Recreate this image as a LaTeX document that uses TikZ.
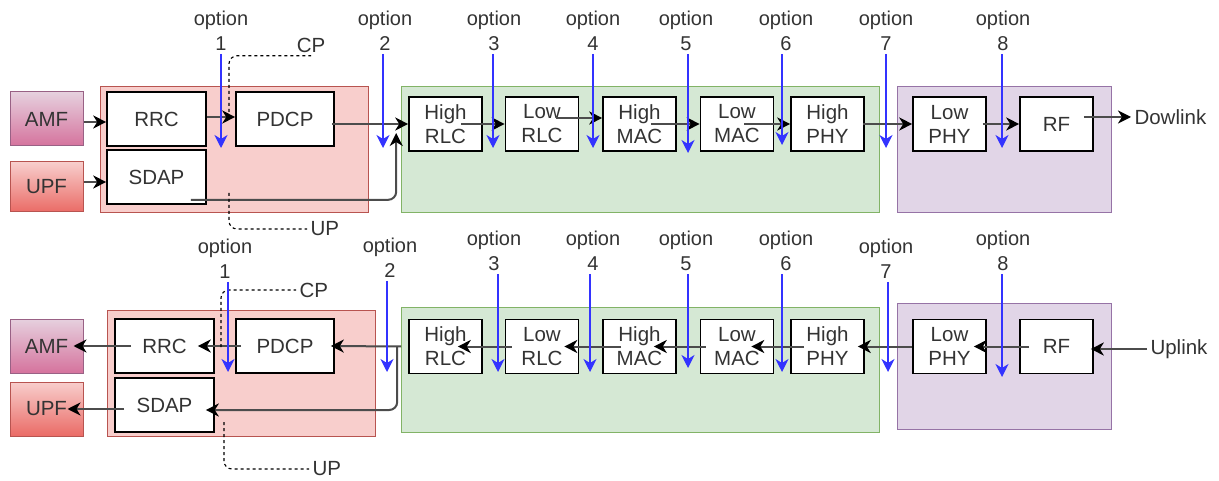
\documentclass[tikz,border=0pt]{standalone}
\usepackage{fontspec}
\setmainfont{Liberation Sans}
\usetikzlibrary{arrows.meta}
\definecolor{txtcinza}{HTML}{333333}
\definecolor{cortecor}{HTML}{3333FF}
\definecolor{amftopo}{HTML}{E6D0DE}
\definecolor{amfbase}{HTML}{D5739D}
\definecolor{amfborda}{HTML}{996185}
\definecolor{upftopo}{HTML}{F8CECC}
\definecolor{upfbase}{HTML}{EA6B66}
\definecolor{vermfundo}{HTML}{F8CECC}
\definecolor{vermborda}{HTML}{B85450}
\definecolor{verdefundo}{HTML}{D5E8D4}
\definecolor{verdeborda}{HTML}{82B366}
\definecolor{roxofundo}{HTML}{E1D5E7}
\definecolor{roxoborda}{HTML}{9673A6}

\begin{document}
\begin{tikzpicture}[
        x=1pt, y=-1pt,
        font=\fontsize{20.5}{24}\selectfont,
        every node/.style={text=txtcinza},
        bloco/.style={rectangle, draw=black, line width=1.6pt, fill=white,
            minimum width=73pt, minimum height=54pt, align=center},
        bloco largo/.style={bloco, minimum width=99pt},
        nucleo/.style={rectangle, line width=1pt, minimum width=73pt, minimum height=54pt},
        amf/.style={nucleo, draw=amfborda, top color=amftopo, bottom color=amfbase},
        upf/.style={nucleo, draw=vermborda, top color=upftopo, bottom color=upfbase, minimum height=50pt},
        seta/.style={-{Stealth[length=13pt,width=13pt,inset=4pt,color=black]}, line width=2pt, draw=black!70},
        corte/.style={-{Stealth[length=13pt,width=13pt,inset=4pt]}, line width=1.3pt, draw=cortecor},
        tracejado/.style={dashed, line width=1.1pt, rounded corners=8pt},
        rotulo/.style={align=center, font=\fontsize{20}{25}\selectfont}
    ]
        \useasboundingbox (0,0) rectangle (1219,481);

        % Grupos (downlink)
        \filldraw[fill=vermfundo, draw=vermborda] (100,86) rectangle (368,212);
        \filldraw[fill=verdefundo, draw=verdeborda] (401,86) rectangle (879,212);
        \filldraw[fill=roxofundo, draw=roxoborda] (897,86) rectangle (1111,212);

        % Blocos (downlink)
        \node[amf] (amf) at (46.5,119) {AMF};
        \node[upf] (upf) at (46.5,187) {UPF};
        \node[bloco largo] (rrc) at (156.5,119) {RRC};
        \node[bloco largo, minimum width=98pt] (pdcp) at (285,119) {PDCP};
        \node[bloco largo] (sdap) at (156.5,177) {SDAP};
        \node[bloco] (hrlc) at (445.5,124) {High\\RLC};
        \node[bloco] (lrlc) at (542,124) {Low\\RLC};
        \node[bloco] (hmac) at (639.5,124) {High\\MAC};
        \node[bloco] (lmac) at (737,124) {Low\\MAC};
        \node[bloco] (hphy) at (827.5,124) {High\\PHY};
        \node[bloco] (lphy) at (949.5,124) {Low\\PHY};
        \node[bloco] (rf) at (1056.5,124) {RF};
        \node[anchor=west] (dl) at (1131,117) {Dowlink};
        \node (cp) at (311,45) {CP};
        \node[anchor=west] (up) at (307,229) {UP};
        \coordinate (hrlcin) at ([xshift=-12pt,yshift=-9pt]hrlc.west);

        % Setas (downlink)
        \draw[seta] (amf.east |- 0,122) -- (rrc.west |- 0,122);
        \draw[seta] (upf.east |- 0,182) -- (sdap.west |- 0,182);
        \draw[seta] (rrc.east |- 0,117) -- (pdcp.west |- 0,117);
        \draw[seta] ([xshift=-3pt]pdcp.east |- hrlc) -- (hrlc.west);
        \draw[seta, rounded corners=8pt] ([xshift=-16pt,yshift=5pt]sdap.south east) -| (hrlcin);
        \draw[seta] ([xshift=-22pt]hrlc.east) -- (lrlc.west);
        \draw[seta] ([xshift=-23pt,yshift=6pt]lrlc.east) -- ([yshift=6pt]hmac.west);
        \draw[seta] ([xshift=-26pt]hmac.east) -- (lmac.west);
        \draw[seta] ([xshift=-30pt]lmac.east) -- (hphy.west);
        \draw[seta] ([xshift=-2pt]hphy.east) -- (lphy.west);
        \draw[seta] ([xshift=-4pt]lphy.east) -- (rf.west);
        \draw[seta] ([xshift=-10pt]rf.east |- dl) -- (dl.west);

        % CP / UP
        \draw[tracejado] (229,112) |- (cp.south);
        \draw[tracejado] (229,193) |- (up.west);

        % Opcoes de divisao (downlink)
        \foreach \k/\x/\lx/\ye in {1/221/221/148, 2/383/385/148, 3/493/494/148, 4/593/593/148,
                5/688/686/153, 6/782/786/145, 7/886/886/148, 8/1002/1003/148} {
            \node[rotulo] (od\k) at (\lx,30.5) {option\\\k};
            \coordinate (cd\k) at (\x,\ye);
            \draw[corte] (od\k.south -| cd\k) -- (cd\k);
        }

        % Grupos (uplink)
        \filldraw[fill=vermfundo, draw=vermborda] (107,310) rectangle (375,436);
        \filldraw[fill=verdefundo, draw=verdeborda] (401,307) rectangle (879,432);
        \filldraw[fill=roxofundo, draw=roxoborda] (897,303) rectangle (1111,429);

        % Blocos (uplink)
        \node[amf] (amfu) at (46.5,346) {AMF};
        \node[upf, minimum height=54pt] (upfu) at (46.5,409) {UPF};
        \node[bloco largo] (rrcu) at (164.5,346) {RRC};
        \node[bloco largo, minimum width=98pt] (pdcpu) at (285,346) {PDCP};
        \node[bloco largo] (sdapu) at (164.5,405) {SDAP};
        \node[bloco] (hrlcu) at (445.5,346.5) {High\\RLC};
        \node[bloco] (lrlcu) at (542,346.5) {Low\\RLC};
        \node[bloco] (hmacu) at (639.5,346.5) {High\\MAC};
        \node[bloco] (lmacu) at (737,346.5) {Low\\MAC};
        \node[bloco] (hphyu) at (827.5,346.5) {High\\PHY};
        \node[bloco] (lphyu) at (949.5,346.5) {Low\\PHY};
        \node[bloco] (rfu) at (1056.5,346.5) {RF};
        \node[anchor=west] (ul) at (1147,349) {Uplink};
        \node[anchor=west] (cpu) at (296,290) {CP};
        \node[anchor=west] (upu) at (309,469) {UP};

        % Setas (uplink)
        \draw[seta] (ul.west) -- ([xshift=-3pt]rfu.east |- ul);
        \draw[seta] ([xshift=10pt]rfu.west) -- ([xshift=-13pt]lphyu.east);
        \draw[seta] (lphyu.west) -- ([xshift=-7pt]hphyu.east);
        \draw[seta] ([xshift=14pt]hphyu.west) -- ([xshift=-23pt]lmacu.east);
        \draw[seta] ([xshift=6pt]lmacu.west) -- ([xshift=-23pt]hmacu.east);
        \draw[seta] ([xshift=19pt]hmacu.west) -- ([xshift=-15pt]lrlcu.east);
        \draw[seta] ([xshift=7pt]lrlcu.west) -- ([xshift=-25pt]hrlcu.east);
        \draw[seta] ([xshift=-7pt]hrlcu.west) -- ([xshift=-4pt]pdcpu.east);
        \draw[seta, rounded corners=8pt] ([xshift=-11pt]hrlcu.west) |- ([xshift=-9pt,yshift=-5pt]sdapu.east);
        \draw[seta] ([xshift=6pt]pdcpu.west) -- ([xshift=-17pt]rrcu.east);
        \draw[seta] ([xshift=17pt]rrcu.west) -- ([xshift=-10pt]amfu.east);
        \draw[seta] ([xshift=10pt]sdapu.west |- upfu) -- ([xshift=-16pt]upfu.east);

        % CP / UP
        \draw[tracejado] (221,347) |- (cpu.west);
        \draw[tracejado] (224,422) |- (upu.west);

        % Opcoes de divisao (uplink)
        \foreach \k/\x/\lx/\ly/\ye in {1/228/225/258.5/372, 2/387/390/257.5/372, 3/498/494/250.5/372,
                4/590/593/250.5/372, 5/688/686/250.5/368, 6/782/786/250.5/372,
                7/888/886/258.5/372, 8/1002/1003/250.5/377} {
            \node[rotulo] (ou\k) at (\lx,\ly) {option\\\k};
            \coordinate (cu\k) at (\x,\ye);
            \draw[corte] (ou\k.south -| cu\k) -- (cu\k);
        }
    \end{tikzpicture}
\end{document}
